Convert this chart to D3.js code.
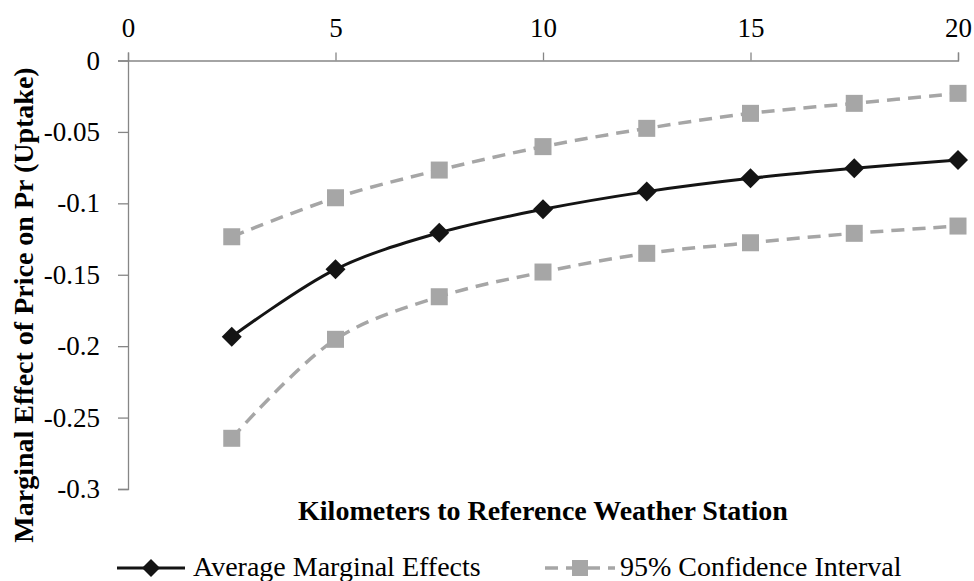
<!DOCTYPE html>
<html>
<head>
<meta charset="utf-8">
<script src="https://cdn.jsdelivr.net/npm/d3@7"></script>
<style>
  body { margin: 0; background: #fff; }
  svg text { font-family: "Liberation Serif", "Times New Roman", serif; fill: #000; }
</style>
</head>
<body>
<div id="chart"></div>
<script>
// distances (km) and estimates
const distances = [2.5, 5, 7.5, 10, 12.5, 15, 17.5, 20];
const meanEffects = [-0.1934, -0.1462, -0.1206, -0.1042, -0.0918, -0.0825, -0.0755, -0.0697];
const upperCI = [-0.1234, -0.0961, -0.0767, -0.0603, -0.0475, -0.0370, -0.0300, -0.0230];
const lowerCI = [-0.2645, -0.1952, -0.1654, -0.1481, -0.1350, -0.1276, -0.1210, -0.1159];
const xTicks = [0, 5, 10, 15, 20];
const yTicks = [0, -0.05, -0.1, -0.15, -0.2, -0.25, -0.3];

const width = 974, height = 581;
const margin = { top: 60.5, right: 16, bottom: 92, left: 128 };
const fontFamily = '"Liberation Serif", "Times New Roman", serif';

const svg = d3.select('#chart')
  .append('svg')
  .attr('width', width)
  .attr('height', height);

const xScale = d3.scaleLinear()
  .domain([0, 20])
  .range([margin.left, width - margin.right]);

const yScale = d3.scaleLinear()
  .domain([0, -0.3])
  .range([margin.top, height - margin.bottom]);

const axisColor = '#868686';

// x axis on top
const xAxis = svg.append('g')
  .attr('transform', `translate(0,${margin.top})`)
  .call(d3.axisTop(xScale).tickValues(xTicks).tickSize(8).tickPadding(16).tickFormat(d => String(d)));
xAxis.attr('font-family', fontFamily).attr('font-size', 27);
xAxis.select('.domain').attr('stroke', axisColor).attr('stroke-width', 1.3);
xAxis.selectAll('.tick line').attr('stroke', axisColor).attr('stroke-width', 1.3);
xAxis.selectAll('.tick text').attr('fill', '#000');

// y axis (plain hyphen minus, like the original)
const yAxis = svg.append('g')
  .attr('transform', `translate(${margin.left},0)`)
  .call(d3.axisLeft(yScale).tickValues(yTicks).tickSize(10).tickPadding(18)
    .tickFormat(d => String(+d.toFixed(2))));
yAxis.attr('font-family', fontFamily).attr('font-size', 27);
yAxis.select('.domain').attr('stroke', axisColor).attr('stroke-width', 1.3);
yAxis.selectAll('.tick line').attr('stroke', axisColor).attr('stroke-width', 1.3);
yAxis.selectAll('.tick text').attr('fill', '#000');

// axis titles
svg.append('text')
  .attr('x', xScale(10))
  .attr('y', 520)
  .attr('text-anchor', 'middle')
  .style('font-size', '28px')
  .style('font-weight', 'bold')
  .text('Kilometers to Reference Weather Station');

svg.append('text')
  .attr('transform', `translate(33,305) rotate(-90)`)
  .attr('text-anchor', 'middle')
  .style('font-size', '28px')
  .style('font-weight', 'bold')
  .text('Marginal Effect of Price on Pr (Uptake)');

const line = d3.line()
  .x((d, i) => xScale(distances[i]))
  .y(d => yScale(d))
  .curve(d3.curveCatmullRom.alpha(0.5));

const ciColor = '#a6a6a6';
const meanColor = '#141414';

[upperCI, lowerCI].forEach(series => {
  svg.append('path')
    .datum(series)
    .attr('fill', 'none')
    .attr('stroke', ciColor)
    .attr('stroke-width', 3.5)
    .attr('stroke-dasharray', '13,8')
    .attr('d', line);
  svg.selectAll(null)
    .data(series)
    .enter()
    .append('rect')
    .attr('x', (d, i) => xScale(distances[i]) - 8.5)
    .attr('y', d => yScale(d) - 8.5)
    .attr('width', 17)
    .attr('height', 17)
    .attr('fill', ciColor);
});

svg.append('path')
  .datum(meanEffects)
  .attr('fill', 'none')
  .attr('stroke', meanColor)
  .attr('stroke-width', 3)
  .attr('d', line);

const diamond = s => `M0,${-s}L${s},0L0,${s}L${-s},0Z`;
svg.selectAll(null)
  .data(meanEffects)
  .enter()
  .append('path')
  .attr('transform', (d, i) => `translate(${xScale(distances[i])},${yScale(d)})`)
  .attr('d', diamond(10))
  .attr('fill', meanColor);

// legend
const legendY = 568;
const leg1 = svg.append('g').attr('transform', `translate(117,${legendY})`);
leg1.append('line').attr('x1', 0).attr('x2', 68).attr('stroke', meanColor).attr('stroke-width', 3);
leg1.append('path').attr('transform', 'translate(34,0)').attr('d', diamond(9)).attr('fill', meanColor);
leg1.append('text').attr('x', 76).attr('y', 8).style('font-size', '28px').text('Average Marginal Effects');

const leg2 = svg.append('g').attr('transform', `translate(545,${legendY})`);
leg2.append('line').attr('x1', 0).attr('x2', 70).attr('stroke', ciColor).attr('stroke-width', 3.5)
  .attr('stroke-dasharray', '13,8');
leg2.append('rect').attr('x', 27).attr('y', -8).attr('width', 16).attr('height', 16).attr('fill', ciColor);
leg2.append('text').attr('x', 75).attr('y', 8).style('font-size', '28px').text('95% Confidence Interval');
</script>
</body>
</html>
